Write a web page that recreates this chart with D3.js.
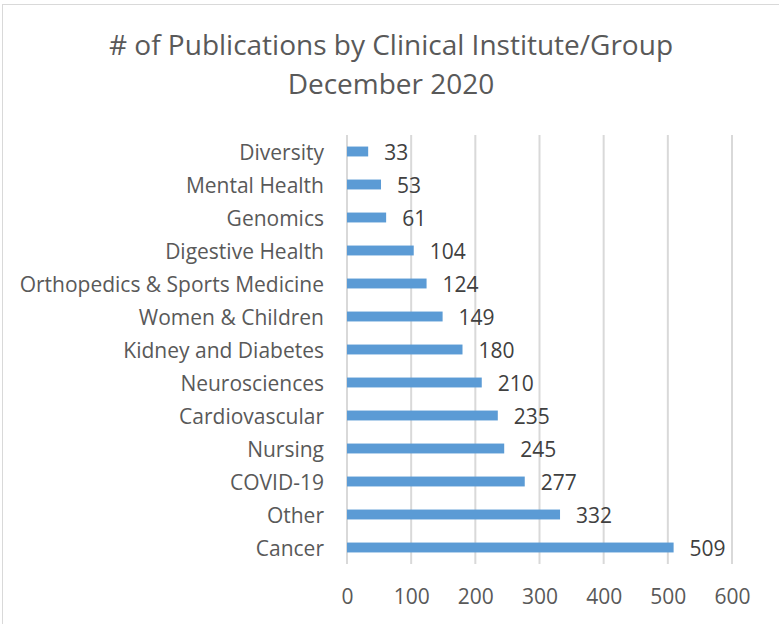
<!DOCTYPE html>
<html>
<head>
<meta charset="utf-8">
<script src="https://cdn.jsdelivr.net/npm/d3@7"></script>
<style>
  body { margin: 0; background: #fff; }
  text { font-family: "Open Sans", sans-serif; fill: #595959; }
</style>
</head>
<body>
<div id="chart"></div>
<script>
var categories = ["Diversity", "Mental Health", "Genomics", "Digestive Health",
  "Orthopedics & Sports Medicine", "Women & Children", "Kidney and Diabetes",
  "Neurosciences", "Cardiovascular", "Nursing", "COVID-19", "Other", "Cancer"];
var values = [33, 53, 61, 104, 124, 149, 180, 210, 235, 245, 277, 332, 509];
var tickValues = [0, 100, 200, 300, 400, 500, 600];
var titleLines = ["# of Publications by Clinical Institute/Group", "December 2020"];

var width = 779, height = 624;
var plotLeft = 347, plotRight = 732, plotTop = 135, plotBottom = 564;

var svg = d3.select("#chart").append("svg")
  .attr("width", width)
  .attr("height", height);

// chart border (runs off the right and bottom)
svg.append("rect")
  .attr("x", 2.5)
  .attr("y", 4.5)
  .attr("width", width + 10)
  .attr("height", height + 10)
  .attr("fill", "none")
  .attr("stroke", "#d9d9d9")
  .attr("stroke-width", 1);

svg.selectAll(".title").data(titleLines).enter()
  .append("text")
  .attr("class", "title")
  .attr("x", 391)
  .attr("y", (d, i) => 55 + i * 39)
  .attr("text-anchor", "middle")
  .style("font-size", "28px")
  .text(d => d);

var x = d3.scaleLinear().domain([0, 600]).range([plotLeft, plotRight]);
var y = d3.scaleBand().domain(categories).range([plotTop, plotBottom]).paddingInner(0.7).paddingOuter(0.35);

// gridlines
svg.selectAll(".grid").data(tickValues).enter()
  .append("line")
  .attr("class", "grid")
  .attr("x1", d => x(d))
  .attr("x2", d => x(d))
  .attr("y1", plotTop)
  .attr("y2", plotBottom)
  .attr("stroke", "#d9d9d9")
  .attr("stroke-width", 2);

// x axis labels
var xAxis = svg.append("g")
  .attr("transform", `translate(0, ${plotBottom})`)
  .call(d3.axisBottom(x).tickValues(tickValues).tickSize(0).tickPadding(25));
xAxis.select(".domain").remove();
xAxis.selectAll("text").style("font-size", "21px").attr("fill", "#595959");

// y axis labels
var yAxis = svg.append("g")
  .attr("transform", `translate(${plotLeft - 1}, 0)`)
  .call(d3.axisLeft(y).tickSize(0).tickPadding(22));
yAxis.select(".domain").remove();
yAxis.selectAll("text").style("font-size", "21px").attr("fill", "#595959").attr("dy", "0.4em");

var data = categories.map((c, i) => ({ name: c, value: values[i] }));

svg.selectAll(".bar").data(data).enter()
  .append("rect")
  .attr("class", "bar")
  .attr("x", x(0))
  .attr("y", d => y(d.name))
  .attr("width", d => x(d.value) - x(0))
  .attr("height", y.bandwidth())
  .attr("fill", "#5b9bd5");

svg.selectAll(".val").data(data).enter()
  .append("text")
  .attr("class", "val")
  .attr("x", d => x(d.value) + 16)
  .attr("y", d => y(d.name) + y.bandwidth() / 2)
  .attr("dy", "0.4em")
  .style("font-size", "21px")
  .style("fill", "#404040")
  .text(d => d.value);
</script>
</body>
</html>
